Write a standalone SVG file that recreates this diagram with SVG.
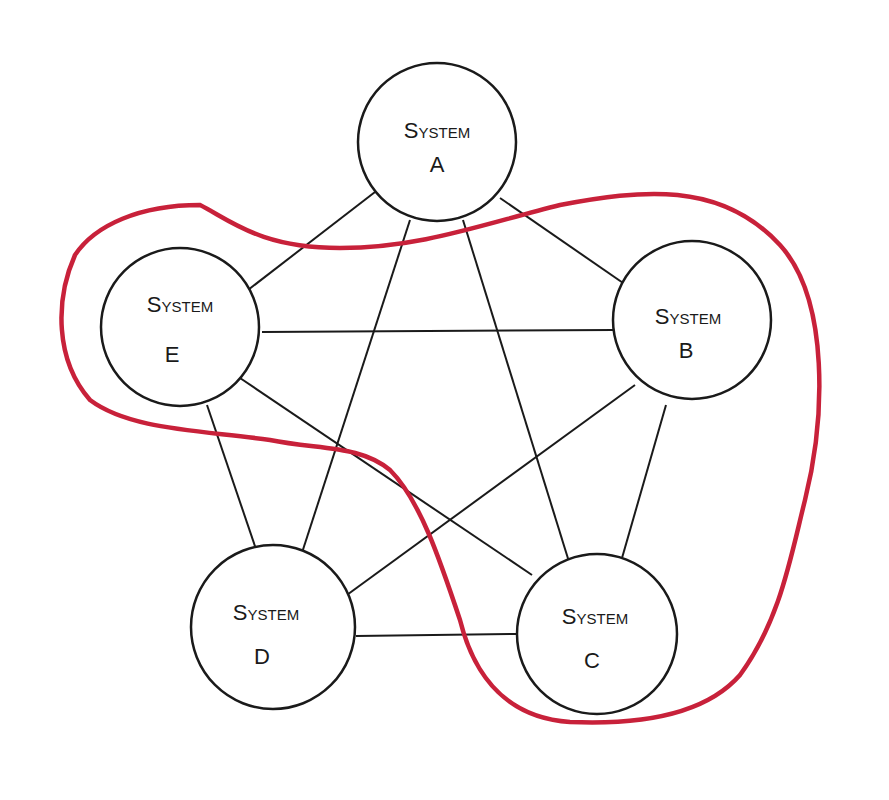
<svg xmlns="http://www.w3.org/2000/svg" width="889" height="800" viewBox="0 0 889 800">
<style>
.n{fill:#fff;stroke:#1a1a1a;stroke-width:2.5}
.t{font-family:"Liberation Sans",sans-serif;font-size:22px;fill:#1a1a1a;text-anchor:middle;font-variant:small-caps}
.c line{stroke:#1a1a1a;stroke-width:2}
</style>
<rect width="889" height="800" fill="#fff"/>
<g class="c" id="connectors">
<line x1="375" y1="192" x2="248" y2="290"/>
<line x1="500" y1="198" x2="626" y2="285"/>
<line x1="410" y1="220" x2="298" y2="565"/>
<line x1="463" y1="220" x2="570" y2="565"/>
<line x1="262" y1="332" x2="614" y2="330"/>
<line x1="207" y1="405" x2="258" y2="555"/>
<line x1="240" y1="378" x2="532" y2="575"/>
<line x1="635" y1="385" x2="340" y2="600"/>
<line x1="666" y1="405" x2="620" y2="565"/>
<line x1="356" y1="636" x2="517" y2="634"/>
</g>
<g id="nodeA"><circle class="n" cx="437" cy="142" r="79"/><text class="t" x="437" y="138">System</text><text class="t" x="437" y="172">A</text></g>
<g id="nodeE"><circle class="n" cx="180" cy="327" r="79"/><text class="t" x="180" y="312">System</text><text class="t" x="172" y="362">E</text></g>
<g id="nodeB"><circle class="n" cx="692" cy="320" r="79"/><text class="t" x="688" y="324">System</text><text class="t" x="686" y="358">B</text></g>
<g id="nodeD"><circle class="n" cx="273" cy="627" r="82"/><text class="t" x="266" y="620">System</text><text class="t" x="262" y="664">D</text></g>
<g id="nodeC"><circle class="n" cx="597" cy="634" r="80"/><text class="t" x="595" y="624">System</text><text class="t" x="592" y="668">C</text></g>
<path id="group" fill="none" stroke="#c8213a" stroke-width="4.5" stroke-linecap="round" d="M200,205 C230,220 260,248 340,248 C420,248 480,225 560,205 C640,190 720,180 780,245 C830,300 825,420 805,500 C790,560 780,620 740,675 C705,715 640,725 570,722 C510,718 475,680 460,620 C440,560 420,500 390,470 C360,445 320,450 270,440 C200,430 130,430 90,400 C55,360 55,300 75,255 C95,225 140,205 200,205 Z"/>
</svg>
